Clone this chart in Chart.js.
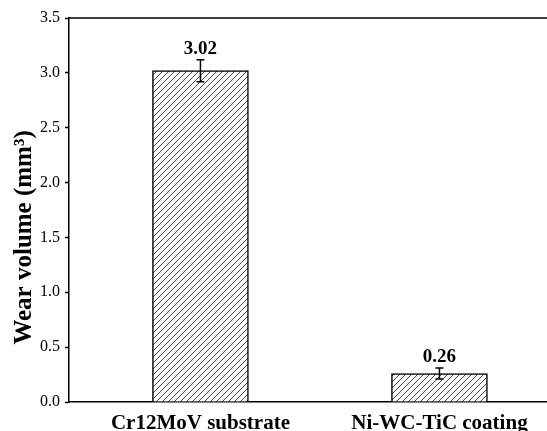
<!DOCTYPE html>
<html>
<head>
<meta charset="utf-8">
<script src="https://cdn.jsdelivr.net/npm/chart.js@4/dist/chart.umd.min.js"></script>
<style>
  body { margin: 0; background: #fff; }
  #wrap { width: 547px; height: 431px; }
</style>
</head>
<body>
<div id="wrap"><canvas id="chart" width="547" height="431"></canvas></div>
<script>
const categories = ['Cr12MoV substrate', 'Ni-WC-TiC coating'];
const wearVolume = [3.02, 0.26];
const wearError = [0.10, 0.05];
const yTicks = [0, 0.5, 1.0, 1.5, 2.0, 2.5, 3.0, 3.5];
const yTitle = 'Wear volume (mm³)';

const serif = "'Liberation Serif', 'Times New Roman', serif";

function hatch() {
    const c = document.createElement('canvas');
    c.width = 6; c.height = 6;
    const g = c.getContext('2d');
    g.fillStyle = '#fff';
    g.fillRect(0, 0, 6, 6);
    g.strokeStyle = '#333';
    g.lineWidth = 0.9;
    g.beginPath();
    g.moveTo(-1, 7); g.lineTo(7, -1);
    g.moveTo(-1, 1); g.lineTo(1, -1);
    g.moveTo(5, 7); g.lineTo(7, 5);
    g.stroke();
    return g.createPattern(c, 'repeat');
}

// error bars, value labels, top frame and y title
const errorBars = {
    id: 'errorBars',
    afterDatasetsDraw(chart) {
        const ctx = chart.ctx;
        const xs = chart.scales.x, ys = chart.scales.y;
        ctx.save();
        ctx.strokeStyle = '#000';
        ctx.lineWidth = 1.5;
        wearVolume.forEach((v, i) => {
            const x = xs.getPixelForValue(i + 1);
            const top = ys.getPixelForValue(v + wearError[i]);
            const bot = ys.getPixelForValue(v - wearError[i]);
            ctx.beginPath();
            ctx.moveTo(x, top); ctx.lineTo(x, bot);
            ctx.moveTo(x - 4, top); ctx.lineTo(x + 4, top);
            ctx.moveTo(x - 4, bot); ctx.lineTo(x + 4, bot);
            ctx.stroke();
            ctx.fillStyle = '#000';
            ctx.font = 'bold 19px ' + serif;
            ctx.textAlign = 'center';
            ctx.textBaseline = 'alphabetic';
            ctx.fillText(v.toFixed(2), x, top - 6);
        });
        const a = chart.chartArea;
        ctx.lineWidth = 1.5;
        ctx.beginPath();
        ctx.moveTo(a.left, a.top); ctx.lineTo(a.right, a.top);
        ctx.stroke();

        // y title sits a bit below the axis middle in the original
        ctx.translate(25, ys.getPixelForValue(1.5));
        ctx.rotate(-Math.PI / 2);
        ctx.font = 'bold 25px ' + serif;
        ctx.textAlign = 'center';
        ctx.textBaseline = 'middle';
        ctx.fillText(yTitle, 0, 0);
        ctx.restore();
    }
};

new Chart(document.getElementById('chart'), {
    type: 'bar',
    plugins: [errorBars],
    data: {
        datasets: [{
            data: wearVolume.map((v, i) => ({ x: i + 1, y: v })),
            backgroundColor: hatch(),
            borderColor: '#000',
            borderWidth: 1.5,
            barThickness: 96
        }]
    },
    options: {
        responsive: false,
        animation: false,
        layout: { padding: { top: 18, right: 0, left: 0, bottom: 0 } },
        plugins: {
            legend: { display: false },
            tooltip: { enabled: false }
        },
        scales: {
            x: {
                type: 'linear',
                offset: false,
                min: 0.45,
                max: 2.45,
                afterBuildTicks: (axis) => { axis.ticks = categories.map((c, i) => ({ value: i + 1 })); },
                afterFit: (s) => { s.height = 29; },
                grid: { display: false, drawTicks: false },
                border: { color: '#000', width: 1.5 },
                ticks: {
                    padding: 9,
                    maxRotation: 0,
                    autoSkip: false,
                    color: '#000',
                    font: { family: serif, size: 21, weight: 'bold' },
                    callback: (v) => categories[v - 1]
                }
            },
            y: {
                min: 0,
                max: 3.5,
                afterBuildTicks: (axis) => { axis.ticks = yTicks.map(v => ({ value: v })); },
                afterFit: (s) => { s.width = 69; },
                grid: { drawOnChartArea: false, tickLength: 4, color: '#000', tickWidth: 1.5 },
                border: { color: '#000', width: 1.5 },
                ticks: {
                    padding: 5,
                    color: '#000',
                    font: { family: serif, size: 16 },
                    callback: (v) => v.toFixed(1)
                }
            }
        }
    }
});
</script>
</body>
</html>
